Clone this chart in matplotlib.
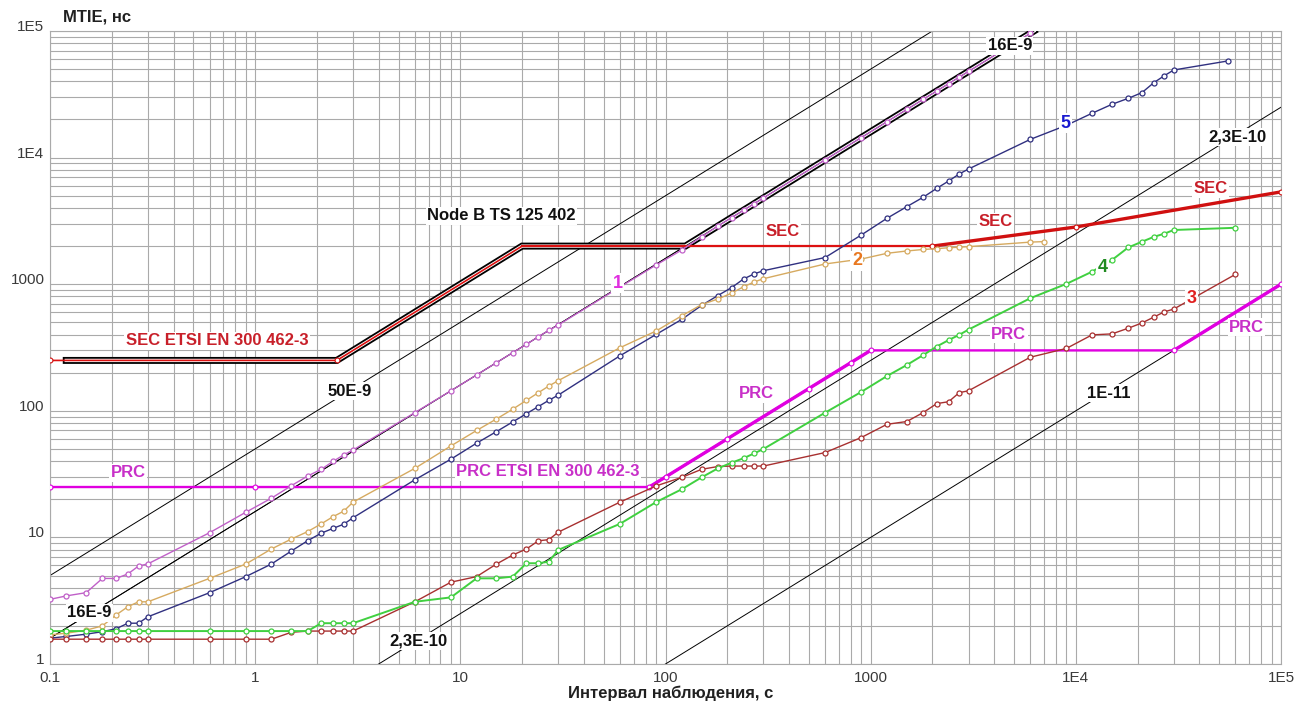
import matplotlib
matplotlib.use("Agg")
import matplotlib.pyplot as plt
from matplotlib.ticker import LogLocator, NullFormatter

plt.rcParams["font.family"] = ["Liberation Sans", "DejaVu Sans"]

# observation intervals, s (common part of all measured curves)
tau_short = [0.1, 0.12, 0.15, 0.18, 0.21, 0.24, 0.27, 0.3,
             0.6, 0.9, 1.2, 1.5, 1.8, 2.1, 2.4, 2.7, 3,
             6, 9, 12, 15, 18, 21, 24, 27, 30,
             60, 90, 120, 150, 180, 210, 240, 270, 300,
             600, 900, 1200, 1500, 1800, 2100, 2400, 2700, 3000]
tau_1 = tau_short + [6000]
tau_2 = tau_short + [6000, 7000]
tau_34 = tau_short + [6000, 9000, 12000, 15000, 18000, 21000, 24000, 27000, 30000, 60000]
tau_5 = tau_short + [6000, 9000, 12000, 15000, 18000, 21000, 24000, 27000, 30000, 55000]

# measured MTIE, ns
mtie_1 = [3.24, 3.45, 3.66, 4.74, 4.74, 5.15, 5.94, 6.18,
          10.9, 15.8, 20.4, 25.6, 30.5, 34.5, 39.9, 44.8, 49.0,
          96.7, 144, 192, 240, 288, 335, 385, 432, 476,
          950, 1418, 1862, 2370, 2880, 3360, 3840, 4320, 4800,
          9600, 14400, 19200, 24000, 28800, 33600, 38400, 43200, 48000,
          96000]
mtie_2 = [1.70, 1.75, 1.85, 2.00, 2.44, 2.84, 3.10, 3.10,
          4.75, 6.16, 8.10, 9.70, 11.1, 12.8, 14.6, 16.1, 19.0,
          35.1, 52.8, 69.9, 86.2, 103, 121, 139, 157, 173,
          315, 427, 563, 690, 764, 850, 954, 1040, 1105,
          1445, 1580, 1754, 1830, 1880, 1910, 1940, 1960, 1980,
          2150, 2170]
mtie_3 = [1.57, 1.57, 1.57, 1.57, 1.57, 1.57, 1.57, 1.57,
          1.57, 1.57, 1.57, 1.78, 1.82, 1.82, 1.82, 1.82, 1.82,
          3.10, 4.43, 4.90, 6.16, 7.26, 8.10, 9.40, 9.60, 11.0,
          19.0, 25.5, 29.8, 34.5, 36.3, 36.6, 36.6, 36.6, 36.6,
          46.8, 61.5, 78.2, 82.3, 96.7, 114, 118, 139, 144,
          265, 311, 398, 405, 449, 494, 550, 605, 636, 1197]
mtie_4 = [1.82, 1.82, 1.82, 1.82, 1.82, 1.82, 1.82, 1.82,
          1.82, 1.82, 1.82, 1.82, 1.82, 2.10, 2.10, 2.10, 2.10,
          3.10, 3.36, 4.75, 4.75, 4.90, 6.25, 6.25, 6.43, 7.96,
          12.8, 19.0, 24.0, 29.8, 35.1, 38.9, 42.2, 46.0, 49.9,
          96.7, 141, 188, 230, 275, 322, 362, 398, 438,
          775, 1006, 1256, 1553, 1950, 2165, 2366, 2507, 2680, 2790]
mtie_5 = [1.60, 1.65, 1.72, 1.80, 1.90, 2.10, 2.10, 2.36,
          3.66, 4.90, 6.16, 7.80, 9.40, 10.8, 11.8, 12.7, 14.3,
          28.5, 41.5, 55.5, 68.5, 81.7, 94.9, 108, 121, 133,
          272, 401, 527, 680, 814, 940, 1099, 1205, 1278,
          1625, 2447, 3313, 4096, 4856, 5718, 6535, 7418, 8128,
          13930, 18000, 22400, 26360, 29380, 32600, 39080, 44360, 49200, 57960]

# masks
sec_tau = [0.1, 2.5, 20, 2000, 10000, 100000]
sec_mtie = [250, 250, 2000, 2000, 2830, 5360]
prc_tau = [0.1, 1, 83.3, 100, 200, 500, 800, 1000, 30000, 100000]
prc_mtie = [25, 25, 25, 30, 60, 150, 240, 300, 300, 1000]
nodeb_tau = [0.12, 2.5, 20, 125, 6250]
nodeb_mtie = [250, 250, 2000, 2000, 100000]

# constant frequency offset lines (end points)
ref_tau = [0.1, 100000]
ref_50e9 = [5, 5e6]
ref_16e9 = [1.6, 1.6e6]
ref_23e10 = [0.025, 25000]
ref_1e11 = [0.001, 1000]

fig = plt.figure(figsize=(13.11, 7.04), dpi=100)
ax = fig.add_axes([50 / 1311, 40 / 704, 1231 / 1311, 633 / 704])
ax.set_xscale("log")
ax.set_yscale("log")
ax.set_xlim(0.1, 1e5)
ax.set_ylim(1, 1e5)

ax.xaxis.set_minor_locator(LogLocator(base=10, subs=range(2, 10)))
ax.yaxis.set_minor_locator(LogLocator(base=10, subs=range(2, 10)))
ax.xaxis.set_minor_formatter(NullFormatter())
ax.yaxis.set_minor_formatter(NullFormatter())
ax.set_xticks([0.1, 1, 10, 100, 1000, 1e4, 1e5])
ax.set_xticklabels(["0.1", "1", "10", "100", "1000", "1E4", "1E5"])
ax.set_yticks([1, 10, 100, 1000, 1e4, 1e5])
ax.set_yticklabels(["1", "10", "100", "1000", "1E4", "1E5"])
ax.tick_params(which="both", length=0, labelsize=11, labelcolor="#3a3a3a")
ax.tick_params(axis="x", pad=5)
ax.tick_params(axis="y", pad=4)
for t in ax.get_yticklabels():
    t.set_verticalalignment("baseline")
ax.grid(True, which="both", color="#aaaaaa", lw=0.8)
ax.set_axisbelow(True)
for s in ax.spines.values():
    s.set_color("#aaaaaa")
    s.set_linewidth(0.8)

# reference lines
for vals in [ref_50e9, ref_16e9, ref_23e10, ref_1e11]:
    ax.plot(ref_tau, vals, color="black", lw=0.7, zorder=2)

# Node B TS 125 402 band
ax.plot(nodeb_tau, nodeb_mtie, color="black", lw=5.0, zorder=3, solid_joinstyle="miter")
ax.plot(nodeb_tau, nodeb_mtie, color="white", lw=2.4, zorder=3, solid_joinstyle="miter")
ax.plot(ref_tau, ref_16e9, color="black", lw=0.6, zorder=3)

# SEC mask
ax.plot(sec_tau[:4], sec_mtie[:4], color="#dd1111", lw=1.2, zorder=4)
ax.plot(sec_tau[2:4], sec_mtie[2:4], color="#dd1111", lw=1.6, zorder=4)
ax.plot(sec_tau[3:], sec_mtie[3:], color="#d01010", lw=2.4, zorder=4)
ax.plot([sec_tau[i] for i in [0, 1, 3, 4, 5]], [sec_mtie[i] for i in [0, 1, 3, 4, 5]],
        ls="none", marker="o", ms=3.5, mfc="white", mec="#d01010", mew=0.8, zorder=4)

# PRC mask: thinner flats, thicker slopes
ax.plot(prc_tau, prc_mtie, color="#e000e0", lw=1.7, zorder=4)
ax.plot(prc_tau[2:8], prc_mtie[2:8], color="#e000e0", lw=2.4, zorder=4)
ax.plot(prc_tau[8:], prc_mtie[8:], color="#e000e0", lw=2.4, zorder=4)
ax.plot(prc_tau, prc_mtie, ls="none", marker="o", ms=3.5,
        mfc="white", mec="#e000e0", mew=0.8, zorder=4)

# measured curves
curves = [
    (tau_5, mtie_5, "#303080", 1.0),
    (tau_2, mtie_2, "#d6aa60", 1.0),
    (tau_1, mtie_1, "#c060c8", 1.0),
    (tau_34, mtie_3, "#a83030", 1.0),
    (tau_34, mtie_4, "#40d040", 1.4),
]
for tx, ty, col, lw in curves:
    ax.plot(tx, ty, color=col, lw=lw, marker="o", ms=3.6, mfc="white",
            mec=col, mew=0.9, zorder=5)

box = dict(facecolor="white", edgecolor="none", pad=1.0)

def label(x, y, s, col, size=12):
    ax.text(x, y, s, color=col, fontsize=size, fontweight="bold", ha="center",
            va="center", bbox=box, zorder=6)

label(0.652, 356, "SEC ETSI EN 300 462-3", "#c8202a")
label(15.8, 3458, "Node B TS 125 402", "#111111")
label(373, 2585, "SEC", "#c8202a")
label(4074, 3100, "SEC", "#c8202a")
label(45500, 5650, "SEC", "#c8202a")
label(0.24, 32.3, "PRC", "#c830c8")
label(26.7, 32.9, "PRC ETSI EN 300 462-3", "#c830c8")
label(276, 136, "PRC", "#c830c8")
label(4710, 404, "PRC", "#c830c8")
label(68000, 459, "PRC", "#c830c8")
label(2.9, 143, "50E-9", "#111111")
label(0.155, 2.53, "16E-9", "#111111")
label(4760, 76200, "16E-9", "#111111")
label(6.28, 1.52, "2,3E-10", "#111111")
label(61000, 14550, "2,3E-10", "#111111")
label(14500, 138, "1E-11", "#111111")
label(58.6, 1021, "1", "#e030e0", 13)
label(857, 1525, "2", "#e87820", 13)
label(36700, 778, "3", "#e02020", 13)
label(13550, 1343, "4", "#208a20", 13)
label(8930, 18750, "5", "#1a1ad0", 13)

fig.text(97 / 1311, 1 - 17 / 704, "MTIE, нс", fontsize=12, fontweight="bold",
         color="#202020", ha="center", va="center")
fig.text(671 / 1311, 1 - 693 / 704, "Интервал наблюдения, с", fontsize=12,
         fontweight="bold", color="#202020", ha="center", va="center")

fig.savefig("out.png", dpi=100, facecolor="white")
